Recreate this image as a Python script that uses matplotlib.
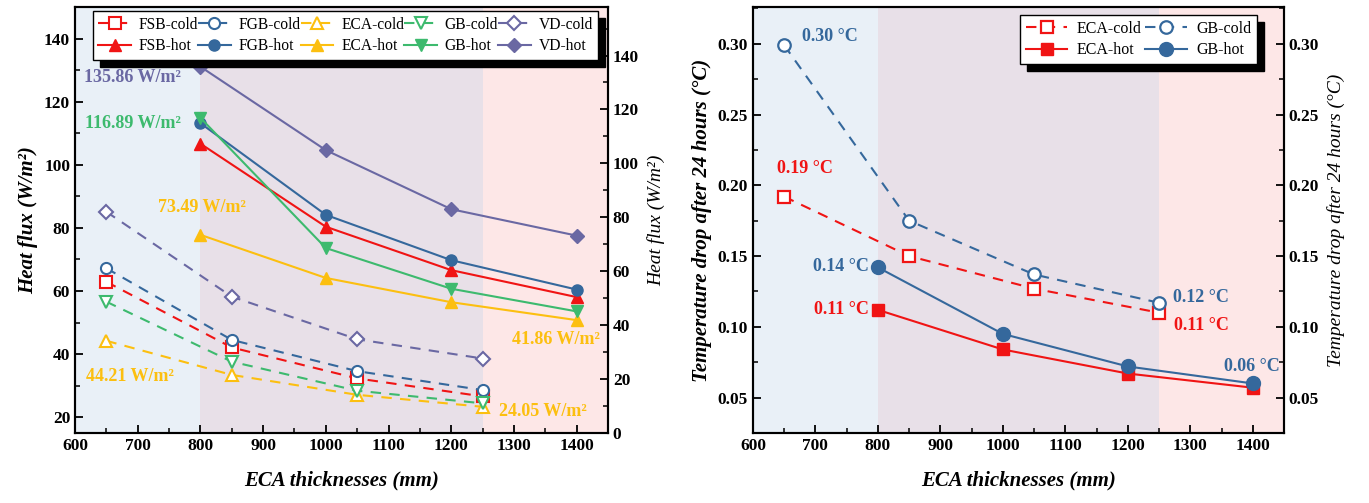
import matplotlib
matplotlib.use('Agg')
import matplotlib.pyplot as plt
from matplotlib.ticker import MultipleLocator

plt.rcParams['font.family'] = ['Liberation Serif', 'DejaVu Serif']
plt.rcParams['font.weight'] = 'bold'
plt.rcParams['axes.linewidth'] = 1.5

# ---- data: left panel (heat flux) ----
x_cold = [650, 850, 1050, 1250]
x_hot = [800, 1000, 1200, 1400]

fsb_cold = [62.9, 42.1, 32.3, 26.6]
fgb_cold = [67.2, 44.5, 34.6, 28.6]
eca_cold = [44.21, 33.4, 27.1, 23.3]
gb_cold = [56.6, 37.6, 28.4, 24.4]
vd_cold = [85.1, 58.2, 44.7, 38.6]

fsb_hot = [107.3, 76.5, 60.4, 50.4]
fgb_hot = [114.9, 80.9, 64.1, 53.2]
eca_hot = [73.49, 57.5, 48.5, 41.86]
gb_hot = [116.89, 68.6, 53.5, 45.1]
vd_hot = [135.86, 104.9, 83.0, 73.2]

# ---- data: right panel (temperature drop) ----
eca_cold_t = [0.192, 0.150, 0.127, 0.110]
gb_cold_t = [0.299, 0.175, 0.137, 0.117]
eca_hot_t = [0.112, 0.084, 0.067, 0.057]
gb_hot_t = [0.142, 0.095, 0.072, 0.060]

red = '#f01414'
blue = '#35689c'
yellow = '#fcbf10'
green = '#3dba6e'
purple = '#6a68a3'

bg_blue = '#e9f0f7'
bg_mauve = '#e8e0e8'
bg_pink = '#fde7e7'

fig = plt.figure(figsize=(13.69, 5.03), dpi=100)
ax1 = fig.add_axes([0.0548, 0.1392, 0.3893, 0.8469])
ax2 = fig.add_axes([0.5500, 0.1392, 0.3879, 0.8469])


def shade(ax):
    ax.axvspan(600, 800, color=bg_blue, zorder=0, lw=0)
    ax.axvspan(800, 1250, color=bg_mauve, zorder=0, lw=0)
    ax.axvspan(1250, 1450, color=bg_pink, zorder=0, lw=0)


def style_ticks(ax):
    ax.tick_params(which='major', direction='in', length=6, width=1.3, labelsize=12.5)
    ax.tick_params(which='minor', direction='in', length=3.5, width=1.1)
    for lab in ax.get_xticklabels() + ax.get_yticklabels():
        lab.set_fontweight('bold')


dash = (0, (5, 4))
lw = 1.5
ms = 8
shadow_kw = {'ox': 5, 'oy': -5, 'facecolor': 'black', 'edgecolor': 'black', 'alpha': 1}

# ---------------- left panel ----------------
shade(ax1)
ax1t = ax1.twinx()

hc = []
hh = []
for yc, yh, col, mk, name in [
        (fsb_cold, fsb_hot, red, '^', 'FSB'),
        (fgb_cold, fgb_hot, blue, 'o', 'FGB'),
        (eca_cold, eca_hot, yellow, '^', 'ECA'),
        (gb_cold, gb_hot, green, 'v', 'GB'),
        (vd_cold, vd_hot, purple, 'D', 'VD')]:
    mk_cold = 's' if name == 'FSB' else mk
    msz = 7 if mk == 'D' else ms
    l1, = ax1.plot(x_cold, yc, linestyle=dash, color=col, lw=lw, marker=mk_cold,
                   ms=msz, mfc='white', mec=col, mew=1.5, label=name + '-cold')
    l2, = ax1t.plot(x_hot, yh, linestyle='-', color=col, lw=lw, marker=mk,
                    ms=msz, mfc=col, mec=col, label=name + '-hot')
    hc.append(l1)
    hh.append(l2)

ax1.set_xlim(600, 1450)
ax1.set_ylim(15, 150)
ax1t.set_ylim(0, 158)
ax1.xaxis.set_major_locator(MultipleLocator(100))
ax1.xaxis.set_minor_locator(MultipleLocator(50))
ax1.yaxis.set_major_locator(MultipleLocator(20))
ax1.yaxis.set_minor_locator(MultipleLocator(10))
ax1t.yaxis.set_major_locator(MultipleLocator(20))
ax1t.yaxis.set_minor_locator(MultipleLocator(10))
style_ticks(ax1)
style_ticks(ax1t)

ax1.set_xlabel('ECA thicknesses (mm)', fontsize=15, fontweight='bold', style='italic', labelpad=12)
ax1.set_ylabel('Heat flux (W/m²)', fontsize=15, fontweight='bold', style='italic', labelpad=4)
ax1t.set_ylabel('Heat flux (W/m²)', fontsize=14, fontweight='normal', style='italic', labelpad=6)

handles = []
for a, b in zip(hc, hh):
    handles += [a, b]
leg = ax1t.legend(handles=handles, ncol=5, loc='upper right', bbox_to_anchor=(0.982, 0.99),
                  prop={'family': 'Liberation Serif', 'weight': 'normal', 'size': 11.2},
                  frameon=True, fancybox=False, framealpha=1, edgecolor='black',
                  columnspacing=0.0, handlelength=2.1, handletextpad=0.5,
                  borderpad=0.35, labelspacing=0.35, borderaxespad=0,
                  shadow=shadow_kw)
leg.get_frame().set_linewidth(1.0)
leg.set_zorder(10)

tkw = dict(fontsize=13, fontweight='bold', ha='center', va='center')
ax1.text(692, 127.8, '135.86 W/m²', color=purple, **tkw)
ax1.text(692, 113.2, '116.89 W/m²', color=green, **tkw)
ax1.text(803, 86.3, '73.49 W/m²', color=yellow, **tkw)
ax1.text(688, 32.8, '44.21 W/m²', color=yellow, **tkw)
ax1.text(1367, 44.5, '41.86 W/m²', color=yellow, **tkw)
ax1.text(1346, 21.7, '24.05 W/m²', color=yellow, **tkw)

# ---------------- right panel ----------------
shade(ax2)
ms2 = 9
a1, = ax2.plot(x_cold, eca_cold_t, linestyle=dash, color=red, lw=lw, marker='s', ms=ms2,
               mfc='white', mec=red, mew=1.6, label='ECA-cold')
a2, = ax2.plot(x_hot, eca_hot_t, linestyle='-', color=red, lw=lw, marker='s', ms=ms2,
               mfc=red, mec=red, label='ECA-hot')
b1, = ax2.plot(x_cold, gb_cold_t, linestyle=dash, color=blue, lw=lw, marker='o', ms=ms2,
               mfc='white', mec=blue, mew=1.6, label='GB-cold')
b2, = ax2.plot(x_hot, gb_hot_t, linestyle='-', color=blue, lw=lw, marker='o', ms=ms2 + 1,
               mfc=blue, mec=blue, label='GB-hot')

ax2.set_xlim(600, 1450)
ax2.set_ylim(0.025, 0.326)
ax2t = ax2.twinx()
ax2t.set_ylim(0.025, 0.326)
ax2.xaxis.set_major_locator(MultipleLocator(100))
ax2.xaxis.set_minor_locator(MultipleLocator(50))
for a in (ax2, ax2t):
    a.yaxis.set_major_locator(MultipleLocator(0.05))
    a.yaxis.set_minor_locator(MultipleLocator(0.025))
    a.yaxis.set_major_formatter(plt.FormatStrFormatter('%.2f'))
style_ticks(ax2)
style_ticks(ax2t)

ax2.set_xlabel('ECA thicknesses (mm)', fontsize=15, fontweight='bold', style='italic', labelpad=12)
ax2.set_ylabel('Temperature drop after 24 hours (°C)', fontsize=15, fontweight='bold',
               style='italic', labelpad=4)
ax2t.set_ylabel('Temperature drop after 24 hours (°C)', fontsize=14, fontweight='normal',
                style='italic', labelpad=6)

leg2 = ax2t.legend(handles=[a1, a2, b1, b2], ncol=2, loc='upper right', bbox_to_anchor=(0.949, 0.981),
                   prop={'family': 'Liberation Serif', 'weight': 'normal', 'size': 11.5},
                   frameon=True, fancybox=False, framealpha=1, edgecolor='black',
                   columnspacing=0.2, handlelength=2.6, handletextpad=0.6,
                   borderpad=0.35, labelspacing=0.35, borderaxespad=0,
                   shadow=shadow_kw)
leg2.get_frame().set_linewidth(1.0)

ax2.text(723, 0.3055, '0.30 °C', color=blue, **tkw)
ax2.text(683, 0.2122, '0.19 °C', color=red, **tkw)
ax2.text(741, 0.1423, '0.14 °C', color=blue, **tkw)
ax2.text(741, 0.1119, '0.11 °C', color=red, **tkw)
ax2.text(1317, 0.121, '0.12 °C', color=blue, **tkw)
ax2.text(1318, 0.1006, '0.11 °C', color=red, **tkw)
ax2.text(1399, 0.0723, '0.06 °C', color=blue, **tkw)

plt.savefig('out.png', dpi=100)
